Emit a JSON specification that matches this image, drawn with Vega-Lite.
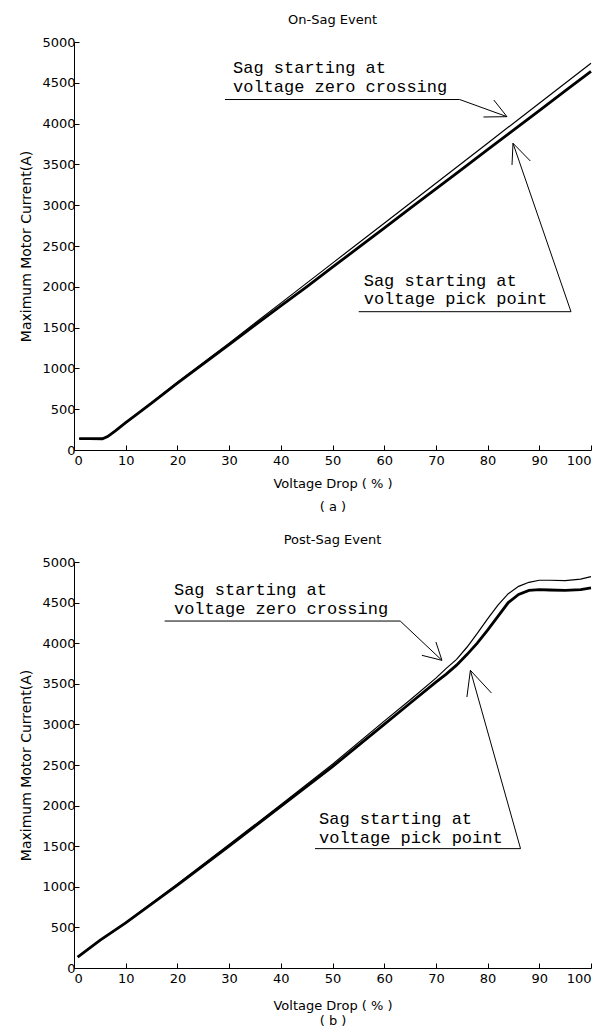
{
  "$schema": "https://vega.github.io/schema/vega-lite/v6.json",
  "padding": {"left": 19, "top": 14, "right": 4, "bottom": 2},
  "background": "white",
  "spacing": 21,
  "config": {
    "view": {"stroke": null},
    "font": "DejaVu Sans",
    "axis": {"grid": false, "domainColor": "#000", "tickColor": "#000", "labelColor": "#000", "titleColor": "#000", "labelFont": "DejaVu Sans", "titleFont": "DejaVu Sans", "labelFontSize": 13, "titleFontSize": 13, "titleFontWeight": "normal", "tickSize": -5, "domainWidth": 1, "tickWidth": 1, "format": "d"},
    "title": {"font": "DejaVu Sans", "fontSize": 13, "fontWeight": "normal", "color": "#000", "offset": 9}
  },
  "datasets": {
    "top": [
      {"x": 1, "y": 140, "s": "pick"}, {"x": 3, "y": 140, "s": "pick"}, {"x": 5.5, "y": 138, "s": "pick"}, {"x": 6.5, "y": 165, "s": "pick"}, {"x": 8, "y": 235, "s": "pick"}, {"x": 10, "y": 335, "s": "pick"}, {"x": 12, "y": 430, "s": "pick"}, {"x": 15, "y": 575, "s": "pick"}, {"x": 20, "y": 820, "s": "pick"}, {"x": 25, "y": 1055, "s": "pick"}, {"x": 30, "y": 1290, "s": "pick"}, {"x": 35, "y": 1530, "s": "pick"}, {"x": 40, "y": 1765, "s": "pick"}, {"x": 45, "y": 2000, "s": "pick"}, {"x": 50, "y": 2240, "s": "pick"}, {"x": 55, "y": 2480, "s": "pick"}, {"x": 60, "y": 2720, "s": "pick"}, {"x": 65, "y": 2960, "s": "pick"}, {"x": 70, "y": 3200, "s": "pick"}, {"x": 75, "y": 3440, "s": "pick"}, {"x": 80, "y": 3680, "s": "pick"}, {"x": 85, "y": 3920, "s": "pick"}, {"x": 90, "y": 4160, "s": "pick"}, {"x": 95, "y": 4400, "s": "pick"}, {"x": 100, "y": 4640, "s": "pick"},
      {"x": 1, "y": 140, "s": "zero"}, {"x": 5.5, "y": 138, "s": "zero"}, {"x": 6.5, "y": 165, "s": "zero"}, {"x": 8, "y": 235, "s": "zero"}, {"x": 10, "y": 335, "s": "zero"}, {"x": 15, "y": 580, "s": "zero"}, {"x": 20, "y": 830, "s": "zero"}, {"x": 30, "y": 1310, "s": "zero"}, {"x": 40, "y": 1800, "s": "zero"}, {"x": 50, "y": 2290, "s": "zero"}, {"x": 60, "y": 2780, "s": "zero"}, {"x": 70, "y": 3270, "s": "zero"}, {"x": 80, "y": 3760, "s": "zero"}, {"x": 90, "y": 4250, "s": "zero"}, {"x": 100, "y": 4740, "s": "zero"}
    ],
    "bot": [
      {"x": 0.7, "y": 135, "s": "pick"}, {"x": 5, "y": 340, "s": "pick"}, {"x": 10, "y": 555, "s": "pick"}, {"x": 20, "y": 1020, "s": "pick"}, {"x": 30, "y": 1500, "s": "pick"}, {"x": 40, "y": 1990, "s": "pick"}, {"x": 50, "y": 2480, "s": "pick"}, {"x": 60, "y": 3000, "s": "pick"}, {"x": 65, "y": 3260, "s": "pick"}, {"x": 70, "y": 3520, "s": "pick"}, {"x": 72, "y": 3620, "s": "pick"}, {"x": 74, "y": 3730, "s": "pick"}, {"x": 76, "y": 3860, "s": "pick"}, {"x": 78, "y": 4000, "s": "pick"}, {"x": 80, "y": 4160, "s": "pick"}, {"x": 82, "y": 4330, "s": "pick"}, {"x": 84, "y": 4500, "s": "pick"}, {"x": 86, "y": 4600, "s": "pick"}, {"x": 88, "y": 4650, "s": "pick"}, {"x": 90, "y": 4660, "s": "pick"}, {"x": 92, "y": 4655, "s": "pick"}, {"x": 95, "y": 4650, "s": "pick"}, {"x": 98, "y": 4660, "s": "pick"}, {"x": 100, "y": 4680, "s": "pick"},
      {"x": 0.7, "y": 140, "s": "zero"}, {"x": 10, "y": 560, "s": "zero"}, {"x": 20, "y": 1035, "s": "zero"}, {"x": 30, "y": 1520, "s": "zero"}, {"x": 40, "y": 2010, "s": "zero"}, {"x": 50, "y": 2510, "s": "zero"}, {"x": 60, "y": 3040, "s": "zero"}, {"x": 65, "y": 3300, "s": "zero"}, {"x": 70, "y": 3570, "s": "zero"}, {"x": 72, "y": 3690, "s": "zero"}, {"x": 74, "y": 3800, "s": "zero"}, {"x": 76, "y": 3950, "s": "zero"}, {"x": 78, "y": 4120, "s": "zero"}, {"x": 80, "y": 4300, "s": "zero"}, {"x": 82, "y": 4470, "s": "zero"}, {"x": 84, "y": 4610, "s": "zero"}, {"x": 86, "y": 4700, "s": "zero"}, {"x": 88, "y": 4750, "s": "zero"}, {"x": 90, "y": 4775, "s": "zero"}, {"x": 92, "y": 4775, "s": "zero"}, {"x": 95, "y": 4770, "s": "zero"}, {"x": 98, "y": 4790, "s": "zero"}, {"x": 100, "y": 4820, "s": "zero"}
    ],
    "topSeg": [
      {"x": 29.2, "y": 4295, "x2": 74.6, "y2": 4295},
      {"x": 74.6, "y": 4295, "x2": 83.75, "y2": 4085},
      {"x": 83.75, "y": 4085, "x2": 81.2, "y2": 4289},
      {"x": 83.75, "y": 4085, "x2": 79.2, "y2": 4081},
      {"x": 55.07, "y": 1695, "x2": 96.13, "y2": 1695},
      {"x": 96.13, "y": 1695, "x2": 84.91, "y2": 3759},
      {"x": 84.91, "y": 3759, "x2": 84.72, "y2": 3493},
      {"x": 84.91, "y": 3759, "x2": 88.26, "y2": 3542}
    ],
    "botSeg": [
      {"x": 17.53, "y": 4273, "x2": 63.1, "y2": 4273},
      {"x": 63.1, "y": 4273, "x2": 71.17, "y2": 3789},
      {"x": 71.17, "y": 3789, "x2": 70.0, "y2": 4015},
      {"x": 71.17, "y": 3789, "x2": 67.29, "y2": 3851},
      {"x": 46.62, "y": 1470, "x2": 86.37, "y2": 1470},
      {"x": 86.37, "y": 1470, "x2": 76.67, "y2": 3666},
      {"x": 76.67, "y": 3666, "x2": 76.0, "y2": 3337},
      {"x": 76.67, "y": 3666, "x2": 80.74, "y2": 3387}
    ],
    "topTxt": [
      {"x": 30.75, "y": 4681, "t": "Sag starting at"},
      {"x": 30.75, "y": 4452, "t": "voltage zero crossing"},
      {"x": 56.03, "y": 2075, "t": "Sag starting at"},
      {"x": 56.03, "y": 1847, "t": "voltage pick point"}
    ],
    "botTxt": [
      {"x": 19.33, "y": 4651, "t": "Sag starting at"},
      {"x": 19.33, "y": 4426, "t": "voltage zero crossing"},
      {"x": 47.39, "y": 1840, "t": "Sag starting at"},
      {"x": 47.39, "y": 1606, "t": "voltage pick point"}
    ]
  },
  "vconcat": [
    {
      "width": 517, "height": 408,
      "title": "On-Sag Event",
      "encoding": {
        "x": {"field": "x", "type": "quantitative", "scale": {"domain": [0, 100], "nice": false}, "axis": {"values": [0,10,20,30,40,50,60,70,80,90,100], "title": ["Voltage Drop ( % )", "( a )"], "titleLineHeight": 23, "titlePadding": 10, "labelPadding": 9}},
        "y": {"field": "y", "type": "quantitative", "scale": {"domain": [0, 5000], "nice": false}, "axis": {"values": [0,500,1000,1500,2000,2500,3000,3500,4000,4500,5000], "title": "Maximum Motor Current(A)", "titleFontSize": 14, "titlePadding": 8, "labelPadding": 4}}
      },
      "layer": [
        {"data": {"name": "top"}, "transform": [{"filter": "datum.s == 'zero'"}], "mark": {"type": "line", "color": "#000", "strokeWidth": 1.2}},
        {"data": {"name": "top"}, "transform": [{"filter": "datum.s == 'pick'"}], "mark": {"type": "line", "color": "#000", "strokeWidth": 2.8}},
        {"data": {"name": "topSeg"}, "mark": {"type": "rule", "color": "#000", "strokeWidth": 1}, "encoding": {"x2": {"field": "x2"}, "y2": {"field": "y2"}}},
        {"data": {"name": "topTxt"}, "mark": {"type": "text", "font": "Liberation Mono", "fontSize": 17, "align": "left", "baseline": "middle", "color": "#000"}, "encoding": {"text": {"field": "t"}}}
      ]
    },
    {
      "width": 517, "height": 406,
      "title": "Post-Sag Event",
      "encoding": {
        "x": {"field": "x", "type": "quantitative", "scale": {"domain": [0, 100], "nice": false}, "axis": {"values": [0,10,20,30,40,50,60,70,80,90,100], "title": ["Voltage Drop ( % )", "( b )"], "titleLineHeight": 15, "titlePadding": 14, "labelPadding": 9}},
        "y": {"field": "y", "type": "quantitative", "scale": {"domain": [0, 5000], "nice": false}, "axis": {"values": [0,500,1000,1500,2000,2500,3000,3500,4000,4500,5000], "title": "Maximum Motor Current(A)", "titleFontSize": 14, "titlePadding": 8, "labelPadding": 4}}
      },
      "layer": [
        {"data": {"name": "bot"}, "transform": [{"filter": "datum.s == 'zero'"}], "mark": {"type": "line", "color": "#000", "strokeWidth": 1.2}},
        {"data": {"name": "bot"}, "transform": [{"filter": "datum.s == 'pick'"}], "mark": {"type": "line", "color": "#000", "strokeWidth": 2.8}},
        {"data": {"name": "botSeg"}, "mark": {"type": "rule", "color": "#000", "strokeWidth": 1}, "encoding": {"x2": {"field": "x2"}, "y2": {"field": "y2"}}},
        {"data": {"name": "botTxt"}, "mark": {"type": "text", "font": "Liberation Mono", "fontSize": 17, "align": "left", "baseline": "middle", "color": "#000"}, "encoding": {"text": {"field": "t"}}}
      ]
    }
  ]
}
